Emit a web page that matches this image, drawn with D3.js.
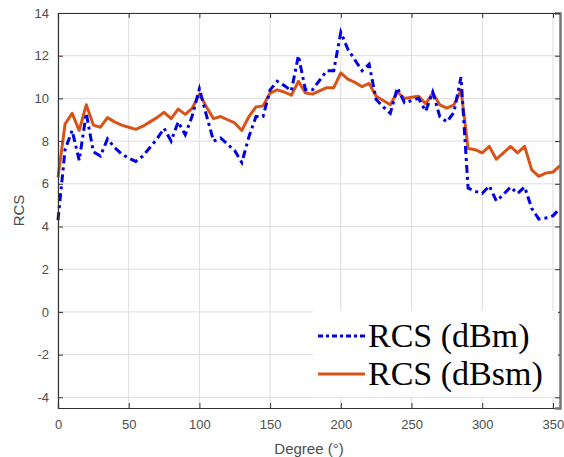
<!DOCTYPE html>
<html>
<head>
	<meta charset="utf-8">
	<title>RCS vs Degree</title>
	<style>
		body { margin: 0; background: #fff; }
		svg { display: block; }
		.tick text { font-family: 'Liberation Sans', Arial, sans-serif; font-size: 13px; fill: #4d4d4d; }
	</style>
	<script src="https://d3js.org/d3.v7.min.js"></script>
</head>
<body>
	<svg width="564" height="457"></svg>
<script>
	// angles, 5 degree steps
	let degrees = d3.range(0, 360, 5)

	let rcsDbm = [4.3, 7.6, 8.5, 7.1, 9.3, 7.5, 7.3, 8.1, 7.7, 7.4,
		7.2, 7.05, 7.3, 7.7, 8.1, 8.6, 8.0, 8.9, 8.3, 9.2,
		10.45, 9.2, 8.0, 8.15, 7.85, 7.55, 7.0, 8.2, 9.15, 9.15,
		10.4, 10.8, 10.6, 10.35, 12.0, 10.4, 10.4, 10.85, 11.3, 11.3,
		13.1, 12.3, 11.8, 11.3, 11.6, 9.95, 9.6, 9.3, 10.5, 9.8,
		9.9, 10.0, 9.4, 10.3, 9.15, 8.9, 9.35, 11.0, 5.8, 5.65,
		5.55, 5.9, 5.2, 5.5, 5.85, 5.55, 5.85, 4.85, 4.35, 4.4,
		4.5, 4.85]

	let rcsDbsm = [6.3, 8.8, 9.3, 8.5, 9.7, 8.75, 8.65, 9.1, 8.9, 8.75,
		8.65, 8.55, 8.7, 8.9, 9.1, 9.35, 9.05, 9.5, 9.25, 9.55,
		10.2, 9.6, 9.05, 9.15, 9.0, 8.85, 8.5, 9.15, 9.6, 9.65,
		10.25, 10.4, 10.3, 10.15, 10.8, 10.25, 10.2, 10.35, 10.5, 10.5,
		11.2, 10.9, 10.75, 10.55, 10.7, 10.1, 9.9, 9.7, 10.3, 10.0,
		10.05, 10.1, 9.75, 10.25, 9.7, 9.55, 9.7, 10.4, 7.65, 7.6,
		7.45, 7.75, 7.15, 7.45, 7.75, 7.45, 7.75, 6.65, 6.35, 6.5,
		6.55, 6.85]

	let xTicks = [0, 50, 100, 150, 200, 250, 300, 350]
	let yTicks = [-4, -2, 0, 2, 4, 6, 8, 10, 12, 14]

	let seriesNames = ['RCS (dBm)', 'RCS (dBsm)']
	let seriesColors = ['#0000e6', '#d95319']

	let svg = d3.select('svg')

	let pLeft = 58, pRight = 560, pTop = 13, pBottom = 408

	let x = d3.scaleLinear().domain([0, 355]).range([pLeft, pRight])
	let y = d3.scaleLinear().domain([-4.5, 14]).range([pBottom, pTop])

	// grid
	let grid = svg.append('g')
	grid.selectAll('.gx')
		.data(xTicks)
		.join('line')
		.attr('x1', d => x(d)).attr('x2', d => x(d))
		.attr('y1', pTop).attr('y2', pBottom)
		.style('stroke', '#dedede')
		.style('stroke-width', 1)
	grid.selectAll('.gy')
		.data(yTicks)
		.join('line')
		.attr('x1', pLeft).attr('x2', pRight)
		.attr('y1', d => y(d)).attr('y2', d => y(d))
		.style('stroke', '#dedede')
		.style('stroke-width', 1)

	// lines
	let line = d3.line()
		.x((d, i) => x(degrees[i]))
		.y(d => y(d))

	svg.append('path')
		.datum(rcsDbsm)
		.attr('d', line)
		.style('fill', 'none')
		.style('stroke', seriesColors[1])
		.style('stroke-width', 3)
		.style('stroke-linejoin', 'round')

	svg.append('path')
		.datum(rcsDbm)
		.attr('d', line)
		.style('fill', 'none')
		.style('stroke', seriesColors[0])
		.style('stroke-width', 3)
		.style('stroke-dasharray', '8,4,3,4')

	// axes, ticks inward on all sides
	let axisColor = '#333'
	let plain = d => String(d)   // keep the ascii hyphen for negatives
	let bottomAxis = svg.append('g')
		.attr('transform', `translate(0,${pBottom})`)
		.call(d3.axisBottom(x).tickValues(xTicks).tickSize(-5).tickPadding(12).tickFormat(plain))
	let leftAxis = svg.append('g')
		.attr('transform', `translate(${pLeft},0)`)
		.call(d3.axisLeft(y).tickValues(yTicks).tickSize(-5).tickPadding(9).tickFormat(plain))
	let topAxis = svg.append('g')
		.attr('transform', `translate(0,${pTop})`)
		.call(d3.axisTop(x).tickValues(xTicks).tickSize(-5).tickFormat(''))
	let rightAxis = svg.append('g')
		.attr('transform', `translate(${pRight},0)`)
		.call(d3.axisRight(y).tickValues(yTicks).tickSize(-5).tickFormat(''))

	;[bottomAxis, leftAxis, topAxis, rightAxis].forEach(a => {
		a.select('.domain').style('stroke', axisColor).style('stroke-width', 1.2)
		a.selectAll('.tick line').style('stroke', axisColor)
	})
	rightAxis.select('.domain').style('stroke', '#777').style('stroke-width', 2.5)

	// axis labels
	svg.append('text')
		.attr('x', x(177.5))
		.attr('y', 454)
		.attr('text-anchor', 'middle')
		.style('font-family', "'Liberation Sans', Arial, sans-serif")
		.style('font-size', '15px')
		.style('fill', '#4d4d4d')
		.text('Degree (°)')

	svg.append('text')
		.attr('transform', `translate(24,${(pTop + pBottom) / 2}) rotate(-90)`)
		.attr('text-anchor', 'middle')
		.style('font-family', "'Liberation Sans', Arial, sans-serif")
		.style('font-size', '15px')
		.style('fill', '#4d4d4d')
		.text('RCS')

	// legend
	let legend = svg.append('g')
	legend.append('rect')
		.attr('x', 313).attr('y', 311)
		.attr('width', 245).attr('height', 86)
		.style('fill', '#fff')

	seriesNames.forEach((name, i) => {
		let ly = 336 + i * 38
		legend.append('line')
			.attr('x1', 318).attr('x2', 365)
			.attr('y1', ly).attr('y2', ly)
			.style('stroke', seriesColors[i])
			.style('stroke-width', 3)
			.style('stroke-dasharray', i == 0 ? '5,3,3,3' : null)
		legend.append('text')
			.attr('x', 368)
			.attr('y', ly + 11)
			.style('font-family', "'Liberation Serif', 'Times New Roman', serif")
			.style('font-size', '34px')
			.style('fill', '#000')
			.text(name)
	})
</script>
</body>
</html>
